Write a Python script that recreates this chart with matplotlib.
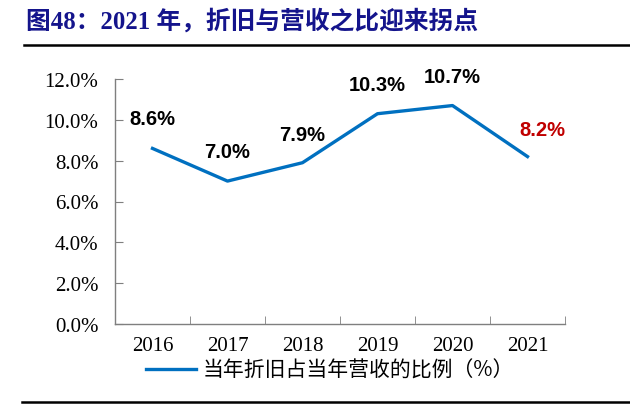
import matplotlib.pyplot as plt
from matplotlib.lines import Line2D

# data
years = ["2016", "2017", "2018", "2019", "2020", "2021"]
ratio = [8.6, 7.0, 7.9, 10.3, 10.7, 8.2]
label_colors = ["black", "black", "black", "black", "black", "#C00000"]
label_dx = [0, 0, 0, 0, 0, 15]
label_dy = [30, 30, 28, 29, 29, 27]

title = "图48：2021 年，折旧与营收之比迎来拐点"
legend_name = "当年折旧占当年营收的比例（%）"

serif = ["Liberation Serif", "Noto Sans CJK SC"]
cjk = ["Noto Sans CJK SC", "DejaVu Sans"]

fig = plt.figure(figsize=(6.3, 4.06), dpi=100)
ax = fig.add_axes([115 / 630, 1 - 325 / 406, 450 / 630, 245 / 406])

x = list(range(len(years)))
ax.plot(x, ratio, color="#0070C0", lw=2.4, label=legend_name)

# data labels
for i, v in enumerate(ratio):
    ax.annotate("%.1f%%" % v, (i, v), xytext=(label_dx[i], label_dy[i]),
                textcoords="offset pixels", ha="center", va="center",
                fontsize=14.5, fontweight="bold", color=label_colors[i],
                family="Liberation Sans")

ax.set_xlim(-0.5, len(years) - 0.5)
ax.set_ylim(0, 12)
ax.set_yticks([0, 2, 4, 6, 8, 10, 12])
ax.set_yticklabels(["%.1f%%" % t for t in [0, 2, 4, 6, 8, 10, 12]],
                   family="Liberation Serif", fontsize=15)
ax.set_xticks(x)
ax.set_xticklabels(years, family="Liberation Serif", fontsize=15)
ax.set_xticks([i - 0.5 for i in range(len(years) + 1)], minor=True)
ax.tick_params(axis="x", which="major", length=0, pad=9)
ax.tick_params(axis="x", which="minor", direction="in", length=6, color="#7f7f7f")
ax.tick_params(axis="y", direction="in", length=6, color="#7f7f7f", pad=12)

for s in ["top", "right"]:
    ax.spines[s].set_visible(False)
for s in ["left", "bottom"]:
    ax.spines[s].set_color("#7f7f7f")
    ax.spines[s].set_linewidth(1.0)

# legend
fig.legend(loc="center", bbox_to_anchor=(330 / 630, 1 - 371 / 406), frameon=False,
           handlelength=2.4, handletextpad=0.3, prop={"family": cjk, "size": 15})

# title and rules
fig.text(26 / 630, 1 - 21 / 406, title, family=serif, fontweight="bold",
         fontsize=17.8, color="#14148C", va="center", ha="left")
fig.add_artist(Line2D([24 / 630, 1], [1 - 46 / 406] * 2, color="black", lw=1.8))
fig.add_artist(Line2D([22 / 630, 1], [1 - 403 / 406] * 2, color="black", lw=1.8))

plt.savefig("out.png", dpi=100)
